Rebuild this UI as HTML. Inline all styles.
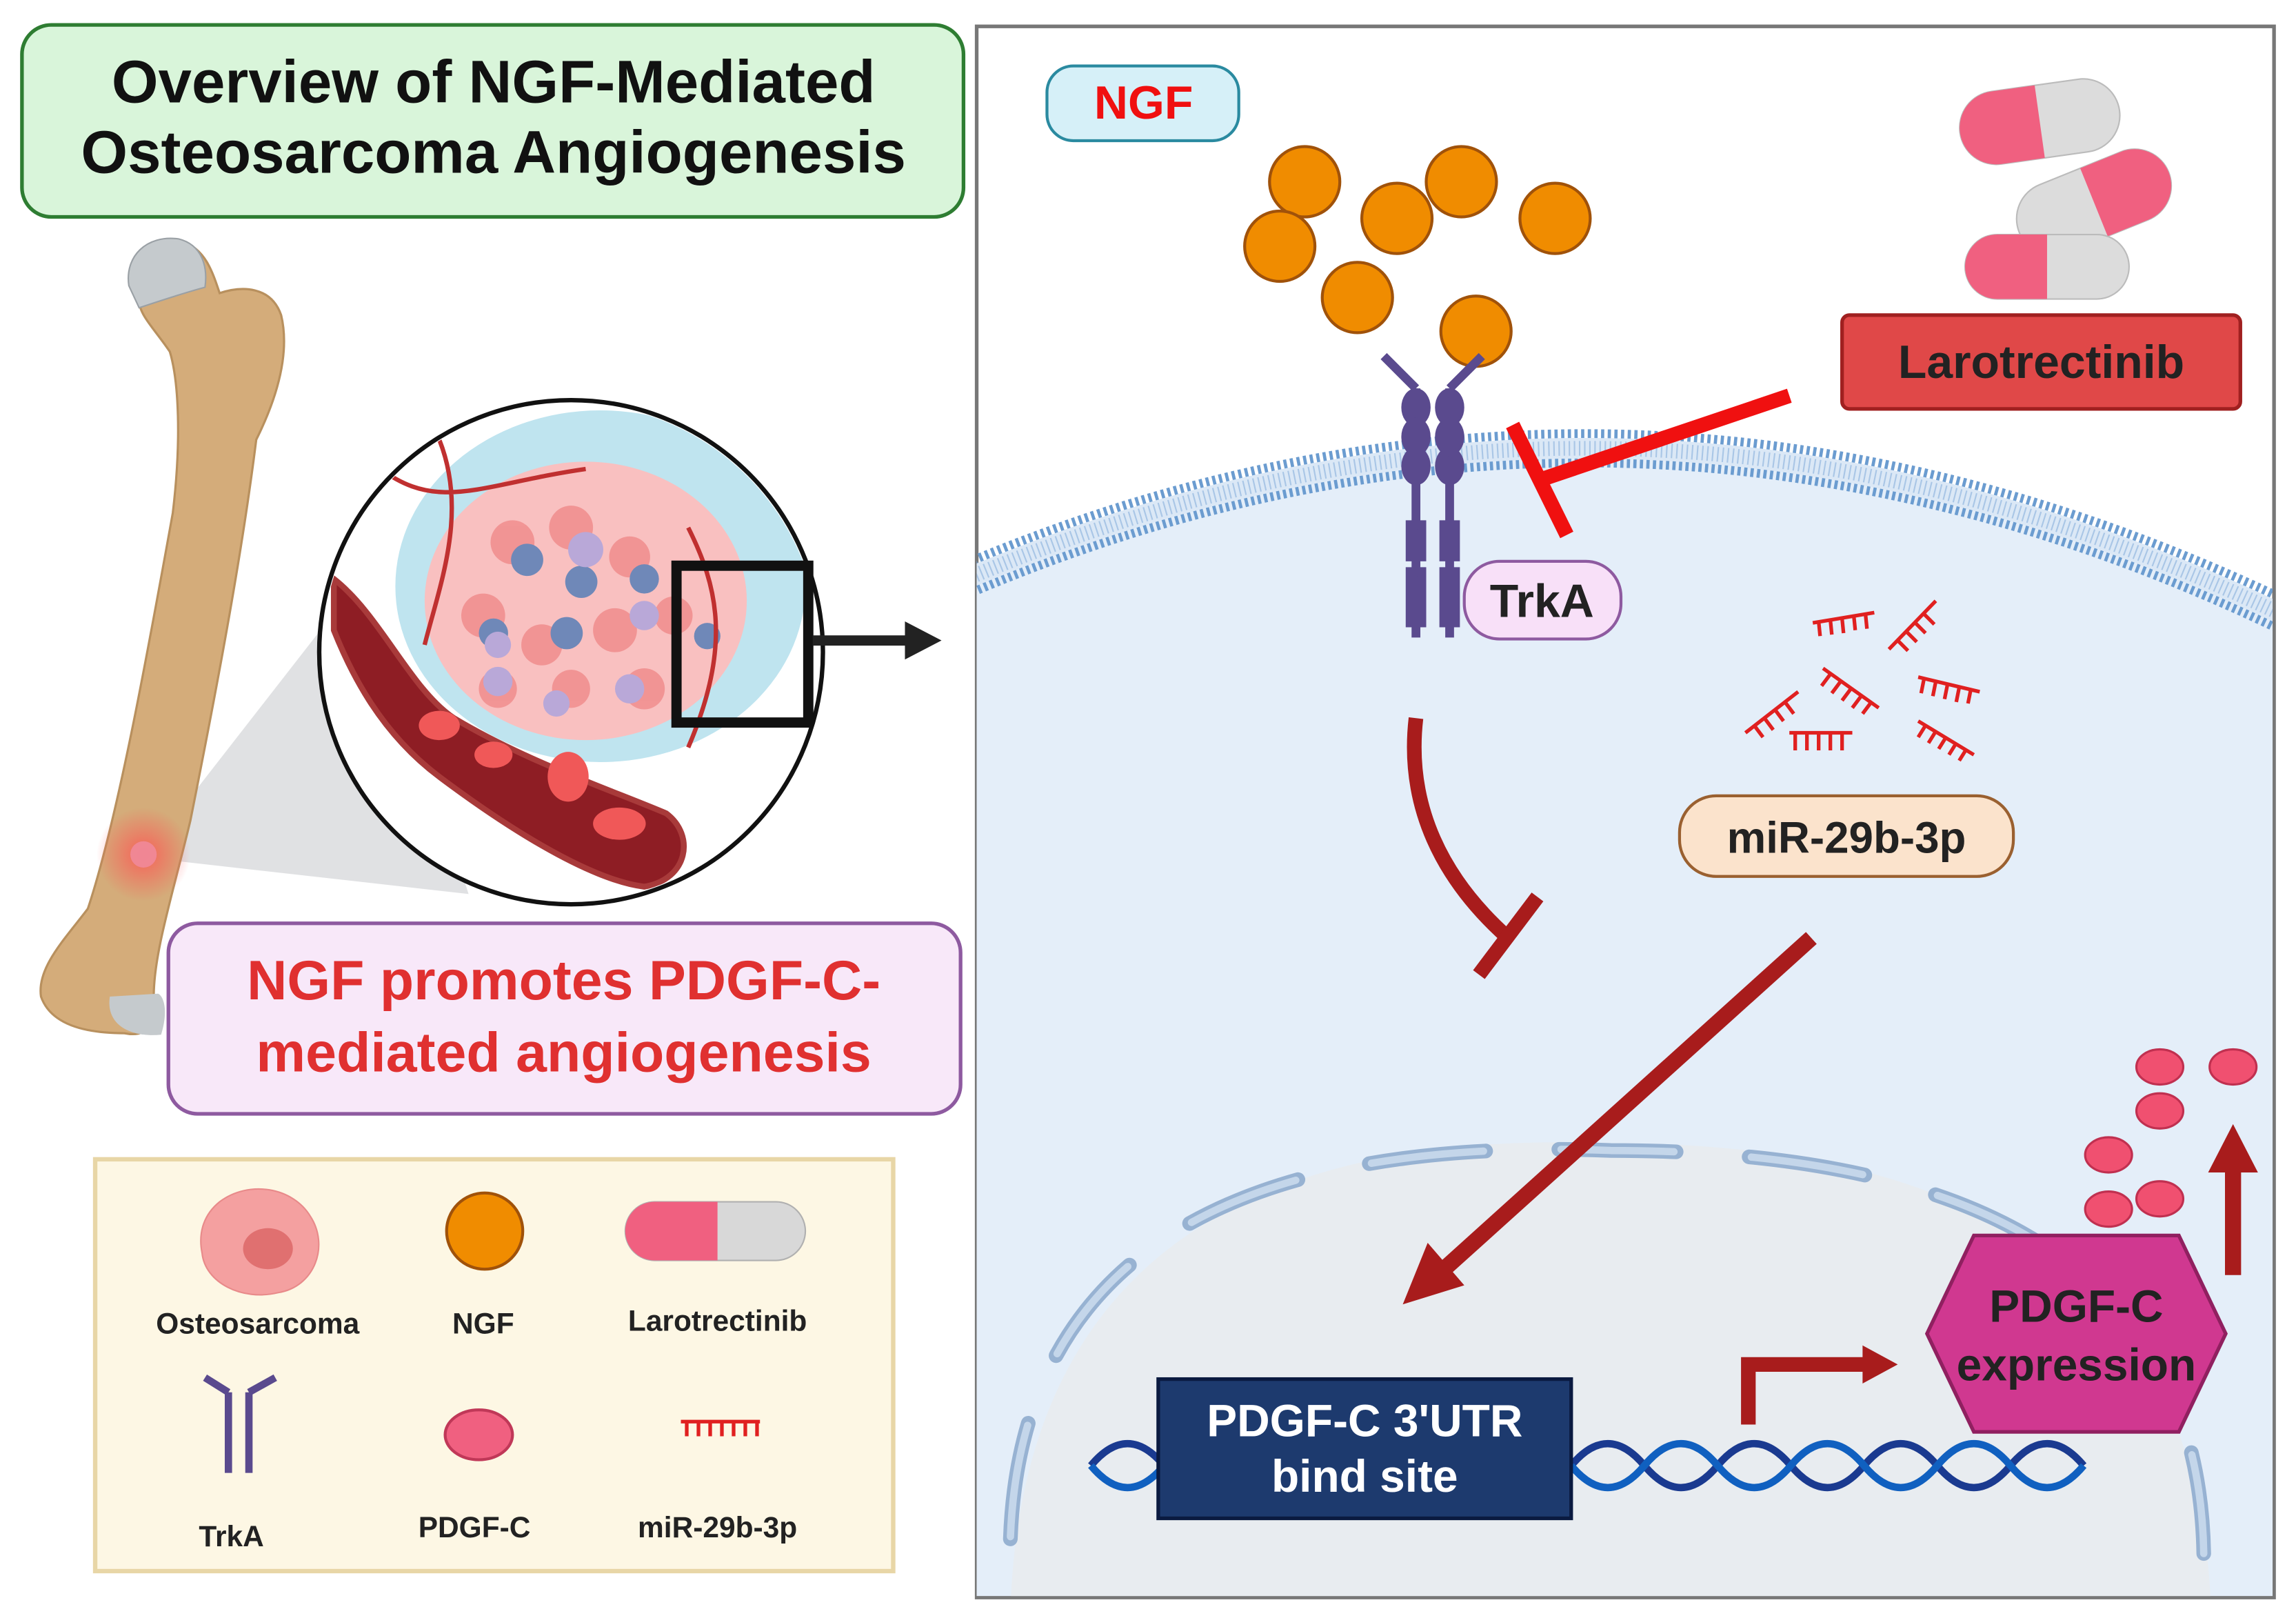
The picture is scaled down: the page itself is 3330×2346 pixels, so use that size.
<!DOCTYPE html>
<html><head><meta charset="utf-8"><style>
html,body{margin:0;padding:0;background:#fff;}
svg{display:block;}
text{font-family:"Liberation Sans",sans-serif;font-weight:bold;}
</style></head><body>
<svg width="3330" height="2346" viewBox="0 0 1568 1104" preserveAspectRatio="none" xmlns="http://www.w3.org/2000/svg">
<defs>
<radialGradient id="glow"><stop offset="0" stop-color="#ff5050" stop-opacity="0.8"/><stop offset="1" stop-color="#ff5050" stop-opacity="0"/></radialGradient>
<clipPath id="panel"><rect x="667" y="18" width="885" height="1071"/></clipPath>
<clipPath id="circ"><circle cx="390" cy="445" r="170"/></clipPath>
</defs>

<!-- Title -->
<rect x="15" y="17" width="643" height="131" rx="20" fill="#d9f5da" stroke="#2e7d32" stroke-width="2.5"/>
<text x="337" y="70" font-size="41" text-anchor="middle" fill="#111">Overview of NGF-Mediated</text>
<text x="337" y="118" font-size="41" text-anchor="middle" fill="#111">Osteosarcoma Angiogenesis</text>

<!-- zoom cone -->
<polygon points="98,585 250,390 320,610" fill="#d8dadc" opacity="0.8"/>

<!-- Bone -->
<path d="M95,205 C85,180 100,160 125,165 C140,170 145,185 150,200 C165,195 185,195 192,215 C198,240 190,270 175,300 C165,380 148,470 130,560 C118,610 105,650 105,680 C108,700 100,708 85,705 C60,705 35,700 28,680 C25,660 45,640 60,620 C80,560 100,450 118,350 C124,300 122,260 116,240 C106,225 95,215 95,205 Z" fill="#d4ac7a" stroke="#b8905e" stroke-width="1.5"/>
<path d="M88,195 C85,175 100,160 122,163 C138,167 142,182 140,196 C125,200 110,205 95,210 Z" fill="#c5cacd" stroke="#9aa0a5"/>
<path d="M75,680 C72,700 90,708 110,706 C115,690 112,680 108,678 Z" fill="#c5cacd"/>
<circle cx="98" cy="583" r="32" fill="url(#glow)"/>
<circle cx="98" cy="583" r="9" fill="#f08a9a" opacity="0.9"/>

<!-- Circle detail -->
<circle cx="390" cy="445" r="172" fill="#fff" stroke="#111" stroke-width="3"/>
<g clip-path="url(#circ)">
<ellipse cx="410" cy="400" rx="140" ry="120" fill="#bfe4ef"/>
<ellipse cx="400" cy="410" rx="110" ry="95" fill="#f9c0c0"/>
<g fill="#f08a8a" opacity="0.8">
<circle cx="350" cy="370" r="15"/><circle cx="390" cy="360" r="15"/><circle cx="430" cy="380" r="14"/><circle cx="330" cy="420" r="15"/><circle cx="370" cy="440" r="14"/><circle cx="420" cy="430" r="15"/><circle cx="460" cy="420" r="13"/><circle cx="390" cy="470" r="13"/><circle cx="440" cy="470" r="14"/><circle cx="340" cy="470" r="13"/>
</g>
<g fill="#6f88b8"><circle cx="360" cy="382" r="11"/><circle cx="397" cy="397" r="11"/><circle cx="337" cy="432" r="10"/><circle cx="387" cy="432" r="11"/><circle cx="440" cy="395" r="10"/><circle cx="483" cy="434" r="9"/></g>
<g fill="#b9a8d8"><circle cx="400" cy="375" r="12"/><circle cx="340" cy="440" r="9"/><circle cx="440" cy="420" r="10"/><circle cx="380" cy="480" r="9"/><circle cx="430" cy="470" r="10"/><circle cx="340" cy="465" r="10"/></g>
<path d="M260,320 C300,350 330,330 400,320 M300,300 C320,350 300,400 290,440 M470,360 C490,400 500,440 470,510" stroke="#c03030" stroke-width="3" fill="none"/>
<path d="M228,395 C260,420 280,470 310,490 C360,520 420,540 455,555 C475,570 470,600 440,605 C400,600 340,560 300,530 C260,500 240,460 228,430 Z" fill="#8e1d24" stroke="#a83a3a" stroke-width="4"/>
<g fill="#f05858"><ellipse cx="300" cy="495" rx="14" ry="10"/><ellipse cx="337" cy="515" rx="13" ry="9"/><ellipse cx="388" cy="530" rx="14" ry="17"/><ellipse cx="423" cy="562" rx="18" ry="11"/></g>
</g>
<rect x="462" y="386" width="90" height="107" fill="none" stroke="#111" stroke-width="7"/>
<line x1="555" y1="437" x2="620" y2="437" stroke="#222" stroke-width="7"/>
<polygon points="618,424 643,437 618,450" fill="#222"/>

<!-- NGF promotes box -->
<rect x="115" y="630" width="541" height="130" rx="20" fill="#f8e8f9" stroke="#8e5aa0" stroke-width="2.5"/>
<text x="385" y="682" font-size="38" text-anchor="middle" fill="#e03030">NGF promotes PDGF-C-</text>
<text x="385" y="731" font-size="38" text-anchor="middle" fill="#e03030">mediated angiogenesis</text>

<!-- Legend -->
<rect x="65" y="791" width="545" height="281" fill="#fdf7e4" stroke="#e8d6a6" stroke-width="3"/>
<path d="M150,820 C170,805 200,810 212,830 C225,850 215,878 190,882 C165,888 140,875 138,855 C135,840 140,828 150,820 Z" fill="#f4a0a0" stroke="#e88a8a"/>
<ellipse cx="183" cy="852" rx="17" ry="14" fill="#e07070"/>
<text x="176" y="910" font-size="20" text-anchor="middle" fill="#222">Osteosarcoma</text>
<circle cx="331" cy="840" r="26" fill="#f08c00" stroke="#a0520a" stroke-width="2"/>
<text x="330" y="910" font-size="20" text-anchor="middle" fill="#222">NGF</text>
<rect x="427" y="820" width="123" height="40" rx="20" fill="#d8d8d8" stroke="#b0b0b0"/>
<path d="M447,820 H490 V860 H447 A20,20 0 0 1 447,820 Z" fill="#f06080"/>
<text x="490" y="908" font-size="20" text-anchor="middle" fill="#222">Larotrectinib</text>
<g stroke="#5a4a8e" stroke-width="5"><line x1="156" y1="950" x2="156" y2="1005"/><line x1="170" y1="950" x2="170" y2="1005"/><line x1="156" y1="950" x2="140" y2="940"/><line x1="170" y1="950" x2="188" y2="940"/></g>
<text x="158" y="1055" font-size="20" text-anchor="middle" fill="#222">TrkA</text>
<ellipse cx="327" cy="979" rx="23" ry="17" fill="#f06080" stroke="#c03858" stroke-width="2"/>
<text x="324" y="1049" font-size="20" text-anchor="middle" fill="#222">PDGF-C</text>
<path d="M465,970 H519 M469,970 v10 M477,970 v10 M485,970 v10 M493,970 v10 M501,970 v10 M509,970 v10 M517,970 v10" stroke="#e02020" stroke-width="2.5"/>
<text x="490" y="1049" font-size="20" text-anchor="middle" fill="#222">miR-29b-3p</text>

<!-- Right panel -->
<rect x="667" y="18" width="886" height="1072" fill="#fff" stroke="#777" stroke-width="2.5"/>
<g clip-path="url(#panel)">
<path d="M660,395 Q1110,205 1560,420 L1560,1095 L660,1095 Z" fill="#e4eef9"/>
<path d="M660,395 Q1110,205 1560,420" fill="none" stroke="#6b9cd0" stroke-width="26" stroke-dasharray="2.2 2.3"/>
<path d="M660,395 Q1110,205 1560,420" fill="none" stroke="#dbe8f6" stroke-width="14"/>
<path d="M660,395 Q1110,205 1560,420" fill="none" stroke="#a9c6e6" stroke-width="10" stroke-dasharray="1 2.5"/>
<path d="M690,1100 Q700,765 1100,780 Q1500,780 1510,1100 Z" fill="#e8ecf0"/>
<path d="M690,1050 Q700,770 1100,785 Q1500,785 1505,1060" fill="none" stroke="#97b2d2" stroke-width="10" stroke-linecap="round" stroke-dasharray="80 50"/>
<path d="M690,1050 Q700,770 1100,785 Q1500,785 1505,1060" fill="none" stroke="#c4d6ea" stroke-width="5" stroke-linecap="round" stroke-dasharray="77 53" stroke-dashoffset="-1.5"/>
</g>

<rect x="715" y="45" width="131" height="51" rx="18" fill="#d6f0f8" stroke="#2a8aa0" stroke-width="2"/>
<text x="781" y="81" font-size="32" text-anchor="middle" fill="#f01010">NGF</text>

<g fill="#f08c00" stroke="#a0520a" stroke-width="2">
<circle cx="891" cy="124" r="24"/><circle cx="874" cy="168" r="24"/><circle cx="954" cy="149" r="24"/><circle cx="998" cy="124" r="24"/><circle cx="1062" cy="149" r="24"/><circle cx="927" cy="203" r="24"/><circle cx="1008" cy="226" r="24"/>
</g>

<!-- Pills -->
<g>
<rect x="1338" y="58" width="110" height="50" rx="25" fill="#dcdcdc" stroke="#bbb" transform="rotate(-8 1393 83)"/>
<path d="M1363,58 H1393 V108 H1363 A25,25 0 0 1 1363,58 Z" fill="#f06080" transform="rotate(-8 1393 83)"/>
<rect x="1375" y="113" width="110" height="50" rx="25" fill="#dcdcdc" stroke="#bbb" transform="rotate(-22 1430 138)"/>
<path d="M1430,113 H1460 A25,25 0 0 1 1460,163 H1430 Z" fill="#f06080" transform="rotate(-22 1430 138)"/>
<rect x="1342" y="160" width="112" height="44" rx="22" fill="#dcdcdc" stroke="#bbb"/>
<path d="M1364,160 H1398 V204 H1364 A22,22 0 0 1 1364,160 Z" fill="#f06080"/>
</g>
<rect x="1258" y="215" width="272" height="64" rx="5" fill="#e04848" stroke="#a02020" stroke-width="2.5"/>
<text x="1394" y="258" font-size="32" text-anchor="middle" fill="#222">Larotrectinib</text>

<!-- TrkA receptor -->
<g stroke="#5a4a8e" stroke-width="6" fill="#5a4a8e">
<line x1="967" y1="265" x2="967" y2="435"/><line x1="990" y1="265" x2="990" y2="435"/>
<line x1="967" y1="265" x2="945" y2="243"/><line x1="990" y1="265" x2="1012" y2="243"/>
<ellipse cx="967" cy="278" rx="7" ry="10"/><ellipse cx="990" cy="278" rx="7" ry="10"/>
<ellipse cx="967" cy="298" rx="7" ry="10"/><ellipse cx="990" cy="298" rx="7" ry="10"/>
<ellipse cx="967" cy="318" rx="7" ry="10"/><ellipse cx="990" cy="318" rx="7" ry="10"/>
<rect x="963" y="358" width="8" height="22"/><rect x="986" y="358" width="8" height="22"/>
<rect x="963" y="390" width="8" height="35"/><rect x="986" y="390" width="8" height="35"/>
</g>
<rect x="1000" y="383" width="107" height="53" rx="24" fill="#f8e0f8" stroke="#8e5aa0" stroke-width="2"/>
<text x="1053" y="421" font-size="32" text-anchor="middle" fill="#222">TrkA</text>

<!-- Inhibition Larotrectinib -->
<line x1="1222" y1="270" x2="1050" y2="328" stroke="#f01010" stroke-width="10"/>
<line x1="1033" y1="290" x2="1070" y2="365" stroke="#f01010" stroke-width="10"/>

<!-- miRNAs -->
<g stroke="#e02020" stroke-width="2.5" fill="none">
<path d="M1238,425 L1280,418 M1242,424 l1,10 M1250,423 l1,10 M1258,422 l1,10 M1266,420 l1,10 M1274,419 l1,10"/>
<path d="M1290,443 L1322,410 M1296,437 l7,7 M1302,431 l7,7 M1308,425 l7,7 M1314,419 l7,7"/>
<path d="M1310,462 L1352,472 M1314,463 l-2,10 M1322,465 l-2,10 M1330,467 l-2,10 M1338,469 l-2,10 M1346,470 l-2,10"/>
<path d="M1245,456 L1283,483 M1250,460 l-6,8 M1257,465 l-6,8 M1264,470 l-6,8 M1271,475 l-6,8 M1278,479 l-6,8"/>
<path d="M1192,500 L1228,472 M1198,495 l6,8 M1205,490 l6,8 M1212,484 l6,8 M1219,479 l6,8"/>
<path d="M1222,500 L1265,500 M1226,500 v12 M1234,500 v12 M1242,500 v12 M1250,500 v12 M1258,500 v12"/>
<path d="M1310,492 L1348,515 M1315,495 l-5,8 M1322,499 l-5,8 M1329,503 l-5,8 M1336,507 l-5,8 M1343,511 l-5,8"/>
</g>
<rect x="1147" y="543" width="228" height="55" rx="25" fill="#fbe3cc" stroke="#9a6030" stroke-width="2"/>
<text x="1261" y="582" font-size="30" text-anchor="middle" fill="#222">miR-29b-3p</text>

<!-- curved inhibition -->
<path d="M967,490 C960,550 985,600 1030,640" fill="none" stroke="#a81c1c" stroke-width="10"/>
<line x1="1010" y1="665" x2="1050" y2="612" stroke="#a81c1c" stroke-width="10"/>

<!-- big arrow -->
<line x1="1237" y1="640" x2="985" y2="867" stroke="#a81c1c" stroke-width="11"/>
<polygon points="958,890 975,848 1000,877" fill="#a81c1c"/>

<!-- DNA -->
<g fill="none" stroke-width="5">
<path d="M745,1000 q25,-30 50,0 q25,30 50,0 M1073,1000 q25,-30 50,0 q25,30 50,0 q25,-30 50,0 q25,30 50,0 q25,-30 50,0 q25,30 50,0 q25,-30 50,0" stroke="#1a3a90"/>
<path d="M745,1000 q25,30 50,0 q25,-30 50,0 M1073,1000 q25,30 50,0 q25,-30 50,0 q25,30 50,0 q25,-30 50,0 q25,30 50,0 q25,-30 50,0 q25,30 50,0" stroke="#1060c0"/>
</g>
<rect x="791" y="941" width="282" height="95" fill="#1d3a6e" stroke="#0a1a40" stroke-width="2.5"/>
<text x="932" y="980" font-size="31" text-anchor="middle" fill="#fff">PDGF-C 3'UTR</text>
<text x="932" y="1018" font-size="31" text-anchor="middle" fill="#fff">bind site</text>

<!-- bent arrow -->
<path d="M1194,972 V931 H1275" fill="none" stroke="#a81c1c" stroke-width="10"/>
<polygon points="1272,918 1296,931 1272,944" fill="#a81c1c"/>

<!-- hexagon -->
<polygon points="1348,843 1488,843 1520,910 1488,977 1348,977 1316,910" fill="#d03890" stroke="#902060" stroke-width="2.5"/>
<text x="1418" y="902" font-size="31" text-anchor="middle" fill="#222">PDGF-C</text>
<text x="1418" y="942" font-size="31" text-anchor="middle" fill="#222">expression</text>

<line x1="1525" y1="870" x2="1525" y2="795" stroke="#a81c1c" stroke-width="11"/>
<polygon points="1508,800 1525,767 1542,800" fill="#a81c1c"/>

<g fill="#f05070" stroke="#c03050" stroke-width="1.5">
<ellipse cx="1475" cy="728" rx="16" ry="12"/><ellipse cx="1525" cy="728" rx="16" ry="12"/><ellipse cx="1475" cy="758" rx="16" ry="12"/><ellipse cx="1440" cy="788" rx="16" ry="12"/><ellipse cx="1475" cy="818" rx="16" ry="12"/><ellipse cx="1440" cy="825" rx="16" ry="12"/>
</g>
</svg>
</body></html>
